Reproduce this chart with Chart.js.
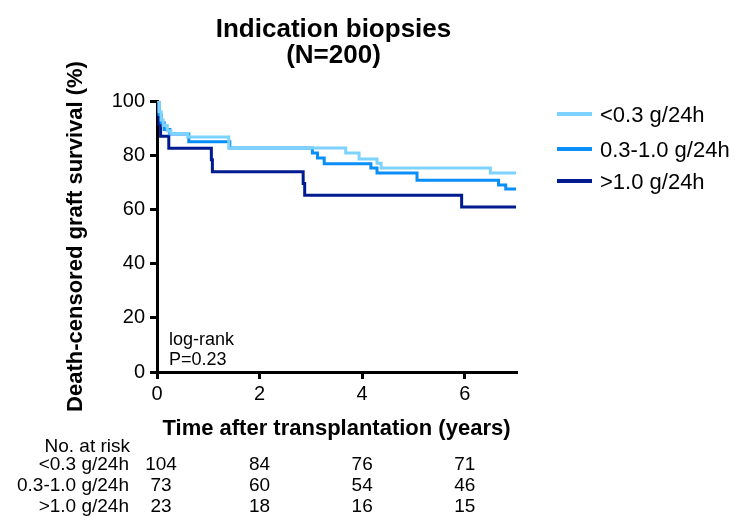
<!DOCTYPE html>
<html>
<head>
<meta charset="utf-8">
<script src="https://cdn.jsdelivr.net/npm/chart.js@4.4.0/dist/chart.umd.min.js"></script>
<style>
  html, body { margin: 0; padding: 0; background: #fff; }
  #wrap { width: 737px; height: 516px; }
</style>
</head>
<body>
<div id="wrap"><canvas id="kmChart" width="737" height="516"></canvas></div>
<script>
// survival curves (time in years, survival in %)
const lowTimes  = [0, 0.04, 0.08, 0.12, 0.2, 0.27, 0.6, 1.4, 3.68, 3.94, 4.29, 4.37, 6.5, 7.0];
const lowSurv   = [100, 96, 93, 91, 89, 88, 86.7, 82.7, 80.8, 78.6, 77, 75.3, 73.4, 73.4];
const midTimes  = [0, 0.04, 0.08, 0.14, 0.25, 0.62, 1.42, 3.03, 3.13, 3.26, 4.17, 4.29, 5.07, 6.66, 6.8, 7.0];
const midSurv   = [100, 95, 92, 89.5, 87.8, 85, 82.7, 80.8, 79, 76.8, 75.3, 73.4, 70.8, 69, 67.5, 67.5];
const highTimes = [0, 0.02, 0.04, 0.07, 0.23, 1.06, 1.08, 2.85, 2.88, 5.94, 7.0];
const highSurv  = [100, 95.7, 91.3, 87.0, 82.6, 78.3, 73.9, 69.6, 65.2, 60.9, 60.9];

const groupLabels = ['<0.3 g/24h', '0.3-1.0 g/24h', '>1.0 g/24h'];
const groupColors = ['#7dd3fd', '#0a8ef7', '#001a8f'];

const xTicks = [0, 2, 4, 6];
const riskTimes = [0, 2, 4, 6];
const riskLow  = [104, 84, 76, 71];
const riskMid  = [73, 60, 54, 46];
const riskHigh = [23, 18, 16, 15];

const FONT = "'Liberation Sans', Arial, sans-serif";

function toPoints(times, surv) {
    return times.map((t, i) => ({ x: t, y: surv[i] }));
}

const extraText = {
    id: 'extraText',
    afterDraw(chart) {
        const ctx = chart.ctx;
        const xs = chart.scales.x;
        const ys = chart.scales.y;
        const midX = (xs.left + xs.right) / 2;
        ctx.save();
        ctx.fillStyle = '#000';
        ctx.textBaseline = 'alphabetic';

        // title
        ctx.font = 'bold 26px ' + FONT;
        ctx.textAlign = 'center';
        ctx.fillText('Indication biopsies', midX - 3, 37);
        ctx.fillText('(N=200)', midX - 3, 63);

        // y axis title
        ctx.save();
        ctx.translate(76, (ys.top + ys.bottom) / 2);
        ctx.rotate(-Math.PI / 2);
        ctx.font = 'bold 22px ' + FONT;
        ctx.textBaseline = 'middle';
        ctx.fillText('Death-censored graft survival (%)', 0, 0);
        ctx.restore();

        // x axis title
        ctx.font = 'bold 22px ' + FONT;
        ctx.fillText('Time after transplantation (years)', midX, 435);

        // log-rank note
        ctx.font = '18px ' + FONT;
        ctx.textAlign = 'left';
        ctx.fillText('log-rank', 169, 345);
        ctx.fillText('P=0.23', 169, 365);

        // legend
        const legY = [114, 149, 181];
        ctx.font = '22px ' + FONT;
        groupLabels.forEach((lab, i) => {
            ctx.strokeStyle = groupColors[i];
            ctx.lineWidth = 4;
            ctx.beginPath();
            ctx.moveTo(557, legY[i]);
            ctx.lineTo(592, legY[i]);
            ctx.stroke();
            ctx.fillText(lab, 600, legY[i] + 8);
        });

        // number at risk table
        ctx.font = '19px ' + FONT;
        ctx.textAlign = 'right';
        ctx.fillText('No. at risk', 130, 452);
        const rows = [riskLow, riskMid, riskHigh];
        const rowY = [470, 491, 512];
        rows.forEach((vals, r) => {
            ctx.textAlign = 'right';
            ctx.fillText(groupLabels[r], 129, rowY[r]);
            ctx.textAlign = 'center';
            vals.forEach((v, c) => {
                let px = xs.getPixelForValue(riskTimes[c]);
                if (c === 0) px += 4;
                ctx.fillText(String(v), px, rowY[r]);
            });
        });
        ctx.restore();
    }
};

const datasets = [
    [lowTimes, lowSurv],
    [midTimes, midSurv],
    [highTimes, highSurv]
].map((d, i) => ({
    label: groupLabels[i],
    data: toPoints(d[0], d[1]),
    borderColor: groupColors[i],
    borderWidth: 3,
    stepped: true,
    pointRadius: 0,
    fill: false
}));

new Chart(document.getElementById('kmChart'), {
    type: 'line',
    data: { datasets: datasets },
    options: {
        responsive: false,
        animation: false,
        layout: { padding: { left: 0, right: 221, top: 101, bottom: 0 } },
        plugins: {
            legend: { display: false },
            title: { display: false },
            tooltip: { enabled: false }
        },
        scales: {
            x: {
                type: 'linear',
                min: 0,
                max: 7,
                afterBuildTicks: (scale) => { scale.ticks = xTicks.map(v => ({ value: v })); },
                afterFit: (scale) => { scale.height = 144; },
                grid: { drawOnChartArea: false, color: '#000', lineWidth: 3, tickLength: 7, tickWidth: 3 },
                border: { color: '#000', width: 3 },
                ticks: { color: '#000', font: { family: FONT, size: 20 }, padding: 3, maxRotation: 0 }
            },
            y: {
                min: 0,
                max: 100,
                afterFit: (scale) => { scale.width = 157; },
                grid: { drawOnChartArea: false, color: '#000', lineWidth: 3, tickLength: 7, tickWidth: 3 },
                border: { color: '#000', width: 3 },
                ticks: { stepSize: 20, color: '#000', font: { family: FONT, size: 20 }, padding: 5 }
            }
        }
    },
    plugins: [extraText]
});
</script>
</body>
</html>
